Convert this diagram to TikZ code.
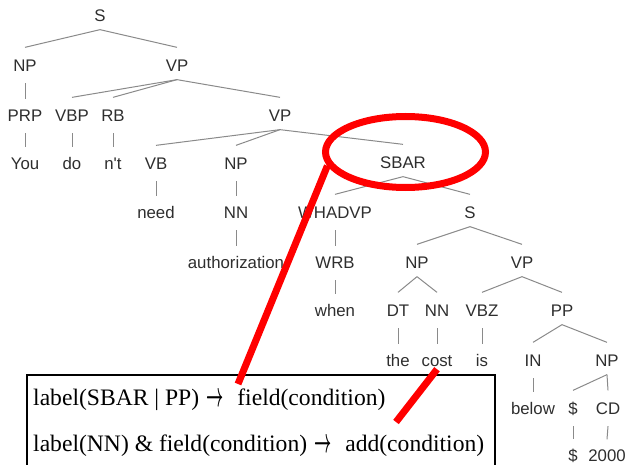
\documentclass[tikz,border=0pt]{standalone}
\usepackage{fontspec}
\usepackage{graphicx}
\setmainfont{Liberation Serif}
\newfontfamily\treefont{Liberation Sans}
\usetikzlibrary{shapes.geometric}
\definecolor{treetext}{HTML}{2E2E2E}
\definecolor{treeline}{HTML}{8A8A8A}
\tikzset{
  tn/.style={font=\treefont\fontsize{16.8}{19}\selectfont, text=treetext, inner sep=0pt, text height=12.1pt, text depth=0pt},
  edge/.style={draw=treeline, line width=1pt},
  redmark/.style={draw=red, line width=7pt},
  boxline/.style={draw=black, line width=1.5pt},
  ruletext/.style={font=\fontsize{23.6}{28}\selectfont, inner sep=0pt, anchor=base west},
}
\newcommand\arr{\hspace{7pt}\raisebox{-1.3pt}{\scalebox{0.6}[1.4]{\boldmath$\rightarrow$}}\hspace{14pt}}
\newcommand\brl[2]{\draw[edge] ([yshift=-8.4pt]#1.south) -- ([yshift=11.4pt]#2.north);}
\newcommand\unl[2]{\draw[edge] ([yshift=-11.9pt]#1.south) -- ([yshift=9.9pt]#2.north);}
\begin{document}
\begin{tikzpicture}[x=1pt,y=-1pt]
\useasboundingbox (0,0) rectangle (626,465);
\clip (0,0) rectangle (626,465);
% tree nodes
\node[tn] (S0) at (100,15) {S};
\node[tn] (NP1) at (25,65) {NP};
\node[tn] (VP1) at (177,65) {VP};
\node[tn] (PRP) at (25,115) {PRP};
\node[tn] (VBP) at (72,115) {VBP};
\node[tn] (RB) at (113,115) {RB};
\node[tn] (VP2) at (280,115) {VP};
\node[tn] (you) at (25,163) {You};
\node[tn] (do) at (72,163) {do};
\node[tn] (nt) at (113,163) {n\textquotesingle t};
\node[tn] (VB) at (156,163) {VB};
\node[tn] (NP3) at (236,163) {NP};
\node[tn] (SBAR) at (403,162) {SBAR};
\node[tn] (need) at (156,212) {need};
\node[tn] (NN4) at (236,212) {NN};
\node[tn] (WHADVP) at (335,212) {WHADVP};
\node[tn] (S4) at (470,212) {S};
\node[tn] (auth) at (236,262) {authorization};
\node[tn] (WRB) at (335,262) {WRB};
\node[tn] (NP5) at (417,262) {NP};
\node[tn] (VP5) at (522,262) {VP};
\node[tn] (when) at (335,310) {when};
\node[tn] (DT) at (398,310) {DT};
\node[tn] (NN6) at (437,310) {NN};
\node[tn] (VBZ) at (482,310) {VBZ};
\node[tn] (PP) at (562,310) {PP};
\node[tn] (the) at (398,360) {the};
\node[tn] (cost) at (437,360) {cost};
\node[tn] (is) at (482,360) {is};
\node[tn] (IN) at (533,360) {IN};
\node[tn] (NP7) at (607,360) {NP};
\node[tn] (below) at (533,408) {below};
\node[tn] (dol8) at (573,408) {\$};
\node[tn] (CD) at (608,408) {CD};
\node[tn] (dol9) at (573,455.5) {\$};
\node[tn] (num) at (607,455.5) {2000};
% edges
\brl{S0}{NP1} \brl{S0}{VP1}
\unl{NP1}{PRP}
\brl{VP1}{VBP} \brl{VP1}{RB} \brl{VP1}{VP2}
\unl{PRP}{you} \unl{VBP}{do} \unl{RB}{nt}
\brl{VP2}{VB} \brl{VP2}{NP3} \brl{VP2}{SBAR}
\unl{VB}{need} \unl{NP3}{NN4}
\brl{SBAR}{WHADVP} \brl{SBAR}{S4}
\unl{NN4}{auth} \unl{WHADVP}{WRB}
\brl{S4}{NP5} \brl{S4}{VP5}
\unl{WRB}{when}
\brl{NP5}{DT} \brl{NP5}{NN6}
\brl{VP5}{VBZ} \brl{VP5}{PP}
\unl{DT}{the} \unl{NN6}{cost} \unl{VBZ}{is}
\brl{PP}{IN} \brl{PP}{NP7}
\unl{IN}{below}
\brl{NP7}{dol8} \brl{NP7}{CD}
\unl{dol8}{dol9} \unl{CD}{num}
% rule box (bottom edge lies below the picture)
\draw[boxline] (27,468) -- (27,375) -- (495,375) -- (495,468);
\node[ruletext] (rule1) at (33,405) {label(SBAR | PP)\arr field(condition)};
\node[ruletext] (rule2) at (33,451) {label(NN) \& field(condition)\arr add(condition)};
% red marks
\node[ellipse, redmark, minimum width=160pt, minimum height=71pt, inner sep=0pt] (ring) at (405.5,152) {};
\coordinate (end1) at (238,384);
\coordinate (end2) at (396,422);
\draw[redmark] (ring.190) -- (end1);
\draw[redmark] ([yshift=-3pt]cost.south) -- (end2);
\end{tikzpicture}
\end{document}
